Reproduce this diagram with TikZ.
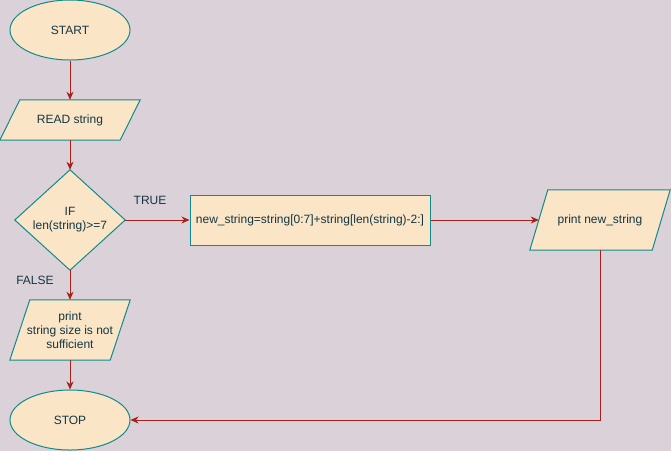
\documentclass[tikz,border=0pt]{standalone}
\usepackage{fontspec}
\setmainfont{Liberation Sans}
\usetikzlibrary{shapes.geometric,arrows.meta,calc}
\definecolor{bgc}{HTML}{DAD2D8}
\definecolor{fillc}{HTML}{FAE5C7}
\definecolor{strokec}{HTML}{0F8B8D}
\definecolor{fontc}{HTML}{143642}
\definecolor{edgec}{HTML}{A8201A}
\tikzset{
  every node/.style={font=\fontsize{12}{14}\selectfont, text=fontc},
  term/.style={ellipse, draw=strokec, fill=fillc, line width=1pt, minimum width=120pt, minimum height=60pt, inner sep=0pt},
  box/.style={rectangle, draw=strokec, fill=fillc, line width=1pt, minimum width=240pt, minimum height=50pt, inner sep=0pt},
  holder/.style={rectangle, draw=none, inner sep=0pt, align=center},
  shapeline/.style={draw=strokec, fill=fillc, line width=1pt, line join=miter},
  conn/.style={draw=edgec, line width=1pt, -{Stealth[length=8pt,width=7pt,inset=2.5pt]}},
  lbl/.style={inner sep=0pt}
}
\begin{document}
\begin{tikzpicture}[x=1pt,y=-1pt]
\useasboundingbox[fill=bgc] (0,0) rectangle (671,451);

% START
\node[term] (start) at (70,30) {START};

% READ string (parallelogram)
\node[holder, minimum width=120pt, minimum height=40pt] (read) at (70,120) {};
\path[shapeline] ([xshift=-10pt]read.south west) -- ([xshift=10pt]read.north west) -- ([xshift=10pt]read.north east) -- ([xshift=-10pt]read.south east) -- cycle;
\node[holder] (readt) at (read.center) {READ string};

% Decision diamond
\node[holder, minimum width=110pt, minimum height=100pt] (dec) at (70,220) {};
\path[shapeline] (dec.north) -- (dec.east) -- (dec.south) -- (dec.west) -- cycle;
\node[holder] (dect) at ([yshift=0pt]dec.center) {IF\\len(string)>=7};

% Process box
\node[box] (proc) at (310,220) {new\_string=string[0:7]+string[len(string)-2:]};

% print new_string
\node[holder, minimum width=122pt, minimum height=60pt] (out) at (600,220) {};
\path[shapeline] ([xshift=-9pt]out.south west) -- ([xshift=9pt]out.north west) -- ([xshift=9pt]out.north east) -- ([xshift=-9pt]out.south east) -- cycle;
\node[holder] (outt) at (out.center) {print new\_string};

% print string size is not sufficient
\node[holder, minimum width=100pt, minimum height=60pt] (err) at (70,330) {};
\path[shapeline] ([xshift=-10pt]err.south west) -- ([xshift=10pt]err.north west) -- ([xshift=10pt]err.north east) -- ([xshift=-10pt]err.south east) -- cycle;
\node[holder] (errt) at (err.center) {print\\string size is not\\sufficient};

% STOP
\node[term] (stop) at (70,420) {STOP};

% Labels
\node[lbl] (truel) at (150,200) {TRUE};
\node[lbl] (falsel) at (35,280) {FALSE};

% Connectors
\draw[conn] (start.south) -- (read.north);
\draw[conn] (read.south) -- (dec.north);
\draw[conn] (dec.east) -- (proc.west);
\draw[conn] (proc.east) -- (out.west);
\draw[conn] (dec.south) -- (err.north);
\draw[conn] (err.south) -- (stop.north);
\draw[conn] (out.south) |- (stop.east);
\end{tikzpicture}
\end{document}
